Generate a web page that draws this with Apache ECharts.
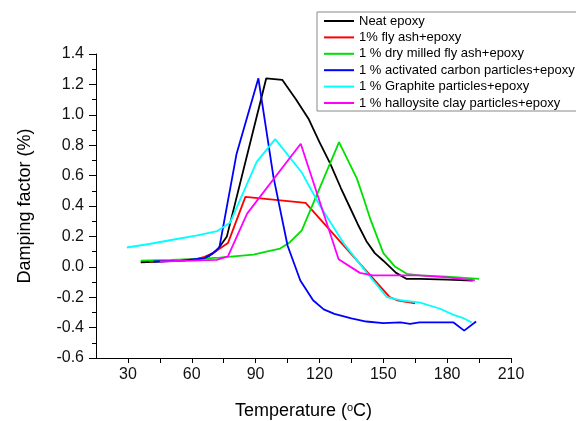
<!DOCTYPE html>
<html>
<head>
<meta charset="utf-8">
<script src="https://cdn.jsdelivr.net/npm/echarts@6/dist/echarts.min.js"></script>
<style>
  html, body { margin: 0; padding: 0; background: #fff; }
  #chart { width: 576px; height: 421px; }
</style>
</head>
<body>
<div id="chart"></div>
<script>
// [temperature (C), damping factor (%)]
var neatEpoxy = [[36,0.03],[45,0.035],[55,0.04],[63,0.05],[67,0.06],[72,0.11],[76.5,0.2],[95,1.24],[102.5,1.23],[109,1.1],[115,0.97],[120,0.82],[125,0.68],[130,0.52],[134,0.4],[138,0.28],[142,0.17],[146,0.09],[150,0.04],[156,-0.04],[161,-0.08],[167,-0.08],[180,-0.085],[192,-0.09]];
var flyAsh = [[40,0.035],[50,0.04],[62,0.05],[66,0.065],[70,0.09],[77,0.156],[85.2,0.46],[113.5,0.42],[153,-0.2],[156.5,-0.22],[165,-0.24]];
var dryMilled = [[36,0.04],[50,0.045],[60,0.05],[73,0.06],[89,0.08],[95,0.1],[101.5,0.12],[106,0.16],[111.7,0.24],[129.2,0.82],[137.6,0.58],[141,0.44],[144,0.31],[150,0.09],[155.6,0.0],[161,-0.046],[167,-0.057],[180,-0.065],[195,-0.079]];
var activatedCarbon = [[42,0.035],[55,0.04],[66,0.057],[70,0.09],[73,0.13],[81,0.74],[91.3,1.24],[98.4,0.59],[105,0.14],[111,-0.09],[117,-0.22],[122,-0.28],[127,-0.31],[135,-0.34],[142,-0.36],[150,-0.37],[158,-0.365],[162.6,-0.375],[167,-0.366],[183,-0.366],[188,-0.42],[193.6,-0.36]];
var graphite = [[29.5,0.127],[40,0.15],[51,0.178],[62,0.205],[72,0.235],[78,0.29],[90.5,0.69],[99.2,0.84],[111.7,0.62],[120.3,0.4],[131.3,0.156],[142.3,-0.04],[151.7,-0.2],[157.9,-0.22],[167.3,-0.235],[176.7,-0.276],[183,-0.316],[187.7,-0.338],[191.6,-0.366]];
var halloysite = [[45,0.035],[60,0.04],[71.7,0.046],[77,0.068],[86,0.35],[111.2,0.81],[129,0.05],[139,-0.04],[145,-0.057],[167,-0.057],[180,-0.07],[193,-0.09]];

var seriesNames = ['Neat epoxy', '1% fly ash+epoxy', '1 % dry milled fly ash+epoxy', '1 % activated carbon particles+epoxy', '1 % Graphite particles+epoxy', '1 % halloysite clay particles+epoxy'];
var seriesData = [neatEpoxy, flyAsh, dryMilled, activatedCarbon, graphite, halloysite];
var colors = ['#000000', '#ff0000', '#00e000', '#0000ff', '#00ffff', '#ff00ff'];

var xLabels = [30, 60, 90, 120, 150, 180, 210];
var xTicks = [30, 45, 60, 75, 90, 105, 120, 135, 150, 165, 180, 195, 210];

var myChart = echarts.init(document.getElementById('chart'));

var series = [];
for (var i = 0; i < seriesNames.length; i++) {
  series.push({
    name: seriesNames[i],
    type: 'line',
    data: seriesData[i],
    showSymbol: false,
    symbol: 'none',
    lineStyle: { color: colors[i], width: 1.8 },
    itemStyle: { color: colors[i] },
    z: 2
  });
}

var option = {
  backgroundColor: '#fff',
  animation: false,
  color: colors,
  grid: { left: 96, right: 65, top: 54, bottom: 63, outerBoundsMode: 'none', containLabel: false },
  legend: {
    orient: 'vertical',
    left: 317,
    top: 12,
    icon: 'rect',
    itemWidth: 30,
    itemHeight: 2,
    itemGap: 2.4,
    padding: [2, 5, 1, 7],
    backgroundColor: '#fff',
    borderColor: '#888',
    borderWidth: 1,
    textStyle: { fontFamily: 'Liberation Sans, Arial', fontSize: 13, color: '#000', lineHeight: 14 },
    data: seriesNames,
    z: 10
  },
  xAxis: {
    type: 'value',
    min: 15,
    max: 210,
    interval: 15,
    name: '{a|Temperature (}{s|o}{a|C)}',
    nameLocation: 'middle',
    nameGap: 44,
    nameTextStyle: {
      rich: {
        a: { fontFamily: 'Liberation Sans, Arial', fontSize: 18, color: '#000' },
        s: { fontFamily: 'Liberation Sans, Arial', fontSize: 11, color: '#000', verticalAlign: 'top', padding: [0, 0, 8, 0] }
      }
    },
    axisLine: { show: true, onZero: false, lineStyle: { color: '#000', width: 1 } },
    axisTick: { show: true, length: 5, customValues: xTicks, lineStyle: { color: '#000' } },
    axisLabel: { customValues: xLabels, margin: 9, fontFamily: 'Liberation Sans, Arial', fontSize: 16, color: '#111' },
    splitLine: { show: false }
  },
  yAxis: {
    type: 'value',
    min: -0.6,
    max: 1.4,
    interval: 0.2,
    name: 'Damping factor (%)',
    nameLocation: 'middle',
    nameGap: 62,
    nameTextStyle: { fontFamily: 'Liberation Sans, Arial', fontSize: 18, color: '#000' },
    axisLine: { show: true, onZero: false, lineStyle: { color: '#000', width: 1 } },
    axisTick: { show: true, length: 7, lineStyle: { color: '#000' } },
    minorTick: { show: true, splitNumber: 2, length: 4, lineStyle: { color: '#000' } },
    axisLabel: {
      margin: 12,
      fontFamily: 'Liberation Sans, Arial',
      fontSize: 16,
      color: '#111',
      formatter: function (v) { return v.toFixed(1); }
    },
    splitLine: { show: false }
  },
  series: series
};

myChart.setOption(option);
</script>
</body>
</html>
